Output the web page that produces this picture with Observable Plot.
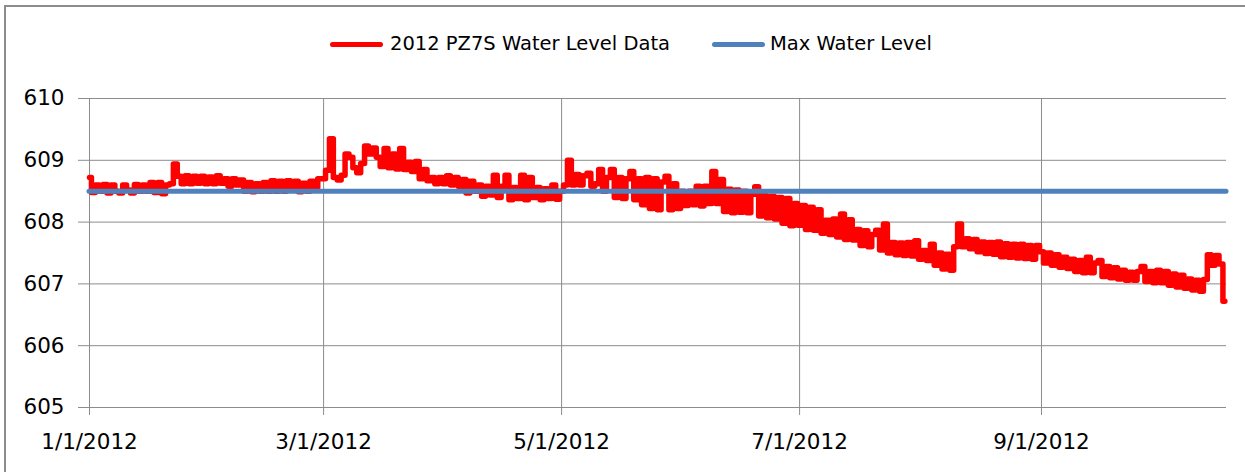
<!DOCTYPE html>
<html>
<head>
<meta charset="utf-8">
<script src="https://cdn.jsdelivr.net/npm/d3@7"></script>
<script src="https://cdn.jsdelivr.net/npm/@observablehq/plot@0.6"></script>
<style>
  html, body { margin: 0; padding: 0; background: #fff; }
  #wrap { position: relative; width: 1245px; height: 472px; overflow: hidden; font-family: "DejaVu Sans", sans-serif; }
  #border { position: absolute; left: 4px; top: 5px; width: 1300px; height: 600px; border-top: 2px solid #8c8c8c; border-left: 2px solid #8c8c8c; pointer-events: none; }
  #legend { position: relative; height: 60px; font-size: 19.5px; line-height: 20px; color: #000; }
  .sw { position: absolute; height: 5px; border-radius: 3px; }
  .lt { position: absolute; top: 34px; white-space: nowrap; }
  svg { display: block; }
</style>
</head>
<body>
<div id="wrap">
  <div id="legend"></div>
  <div id="chart"></div>
  <div id="border"></div>
</div>
<script>
// Series names
const seriesNames = ["2012 PZ7S Water Level Data", "Max Water Level"];
const seriesColors = ["#ff0000", "#4f81bd"];

// Daily water level readings (ft), one value per day of each month, 2012
const jan = [608.72, 608.48, 608.60, 608.50, 608.61, 608.47, 608.60, 608.50, 608.47, 608.60, 608.52, 608.47, 608.61, 608.50, 608.60, 608.50, 608.64, 608.48, 608.64, 608.46, 608.60, 608.62, 608.94, 608.74, 608.62, 608.75, 608.62, 608.74, 608.63, 608.74, 608.62];
const feb = [608.73, 608.62, 608.75, 608.63, 608.70, 608.58, 608.70, 608.60, 608.68, 608.50, 608.64, 608.49, 608.62, 608.50, 608.64, 608.50, 608.67, 608.50, 608.66, 608.50, 608.67, 608.52, 608.66, 608.49, 608.63, 608.50, 608.66, 608.56, 608.70];
const mar = [608.70, 608.84, 609.35, 608.72, 608.68, 608.76, 609.10, 609.05, 608.88, 608.80, 608.95, 609.23, 609.10, 609.20, 609.05, 608.90, 609.19, 608.88, 609.10, 608.86, 609.19, 608.85, 608.97, 608.82, 608.98, 608.70, 608.85, 608.67, 608.72, 608.62, 608.72];
const apr = [608.62, 608.75, 608.60, 608.72, 608.58, 608.69, 608.47, 608.66, 608.50, 608.60, 608.42, 608.58, 608.44, 608.76, 608.40, 608.58, 608.76, 608.36, 608.56, 608.38, 608.76, 608.36, 608.72, 608.40, 608.56, 608.36, 608.54, 608.38, 608.60, 608.37];
const may = [608.50, 608.60, 609.00, 608.60, 608.77, 608.60, 608.75, 608.79, 608.58, 608.62, 608.85, 608.50, 608.72, 608.85, 608.40, 608.72, 608.38, 608.70, 608.82, 608.36, 608.70, 608.28, 608.72, 608.22, 608.70, 608.20, 608.65, 608.74, 608.20, 608.62, 608.22];
const jun = [608.50, 608.27, 608.50, 608.28, 608.58, 608.26, 608.58, 608.30, 608.82, 608.30, 608.69, 608.17, 608.53, 608.15, 608.52, 608.16, 608.50, 608.15, 608.45, 608.57, 608.10, 608.43, 608.07, 608.42, 608.05, 608.40, 607.98, 608.38, 607.94, 608.30];
const jul = [607.95, 608.27, 607.88, 608.24, 607.87, 608.20, 607.82, 608.03, 607.80, 608.05, 607.76, 608.13, 607.72, 608.04, 607.71, 607.88, 607.62, 607.86, 607.60, 607.80, 607.87, 607.55, 607.97, 607.50, 607.67, 607.47, 607.66, 607.46, 607.67, 607.45, 607.70];
const aug = [607.40, 607.54, 607.38, 607.64, 607.30, 607.50, 607.24, 607.48, 607.22, 607.60, 607.97, 607.60, 607.73, 607.57, 607.72, 607.52, 607.68, 607.49, 607.67, 607.48, 607.68, 607.44, 607.65, 607.43, 607.64, 607.42, 607.64, 607.41, 607.62, 607.40, 607.62];
const sep = [607.52, 607.34, 607.50, 607.30, 607.47, 607.27, 607.43, 607.25, 607.40, 607.20, 607.38, 607.18, 607.43, 607.18, 607.34, 607.38, 607.12, 607.28, 607.10, 607.26, 607.08, 607.22, 607.06, 607.19, 607.06, 607.20, 607.28, 607.04, 607.20, 607.02];
const oct = [607.22, 607.02, 607.20, 606.98, 607.16, 606.95, 607.14, 606.93, 607.08, 606.90, 607.06, 606.88, 607.07, 607.47, 607.30, 607.46, 607.32, 606.72];
const monthlyReadings = [jan, feb, mar, apr, may, jun, jul, aug, sep, oct];

const maxWaterLevel = 608.5;

// Axis ticks
const yTicks = [605, 606, 607, 608, 609, 610];
const xTickLabels = ["1/1/2012", "3/1/2012", "5/1/2012", "7/1/2012", "9/1/2012"];
const xDomainLabels = ["1/1/2012", "10/18/2012"];

const parseMDY = d3.timeParse("%m/%d/%Y");
const xTicks = xTickLabels.map(parseMDY);
const labelByTime = new Map(xTicks.map((d, i) => [+d, xTickLabels[i]]));
const xDomain = xDomainLabels.map(parseMDY);
xDomain[1] = d3.timeHour.offset(xDomain[1], 10);

const data = [];
monthlyReadings.forEach((vals, m) => {
  vals.forEach((v, i) => data.push({date: new Date(2012, m, i + 1), level: v}));
});

// Legend
const legend = document.getElementById("legend");
const legendPos = [[330, 390], [712, 770]];
seriesNames.forEach((name, i) => {
  const sw = document.createElement("span");
  sw.className = "sw";
  sw.style.left = legendPos[i][0] + "px";
  sw.style.top = "41.5px";
  sw.style.width = "53px";
  sw.style.background = seriesColors[i];
  legend.appendChild(sw);
  const t = document.createElement("span");
  t.className = "lt";
  t.style.left = legendPos[i][1] + "px";
  t.textContent = name;
  legend.appendChild(t);
});

const grid = "#8c8c8c";
const chart = Plot.plot({
  width: 1245,
  height: 412,
  marginLeft: 89,
  marginRight: 19,
  marginTop: 38,
  marginBottom: 65,
  x: {type: "time", domain: xDomain},
  y: {domain: [605, 610]},
  style: {fontFamily: "'DejaVu Sans', sans-serif", fontSize: "21.5px", background: "transparent", color: "#000", overflow: "visible"},
  marks: [
    Plot.gridY(yTicks, {stroke: grid, strokeOpacity: 1, strokeWidth: 1}),
    Plot.gridX(xTicks, {stroke: grid, strokeOpacity: 1, strokeWidth: 1}),
    Plot.axisY(yTicks, {tickSize: 11, tickPadding: 14, stroke: grid, strokeOpacity: 1, fill: "#000", tickFormat: d => String(d), label: null}),
    Plot.axisX(xTicks, {tickSize: 8, tickPadding: 18, stroke: grid, strokeOpacity: 1, fill: "#000", tickFormat: d => labelByTime.get(+d), label: null}),
    Plot.lineY(data, {x: "date", y: "level", curve: "step", stroke: seriesColors[0], strokeWidth: 5.5, strokeLinejoin: "round", strokeLinecap: "round"}),
    Plot.ruleY([maxWaterLevel], {stroke: seriesColors[1], strokeWidth: 5, strokeLinecap: "round"})
  ]
});
document.getElementById("chart").appendChild(chart);
</script>
</body>
</html>
